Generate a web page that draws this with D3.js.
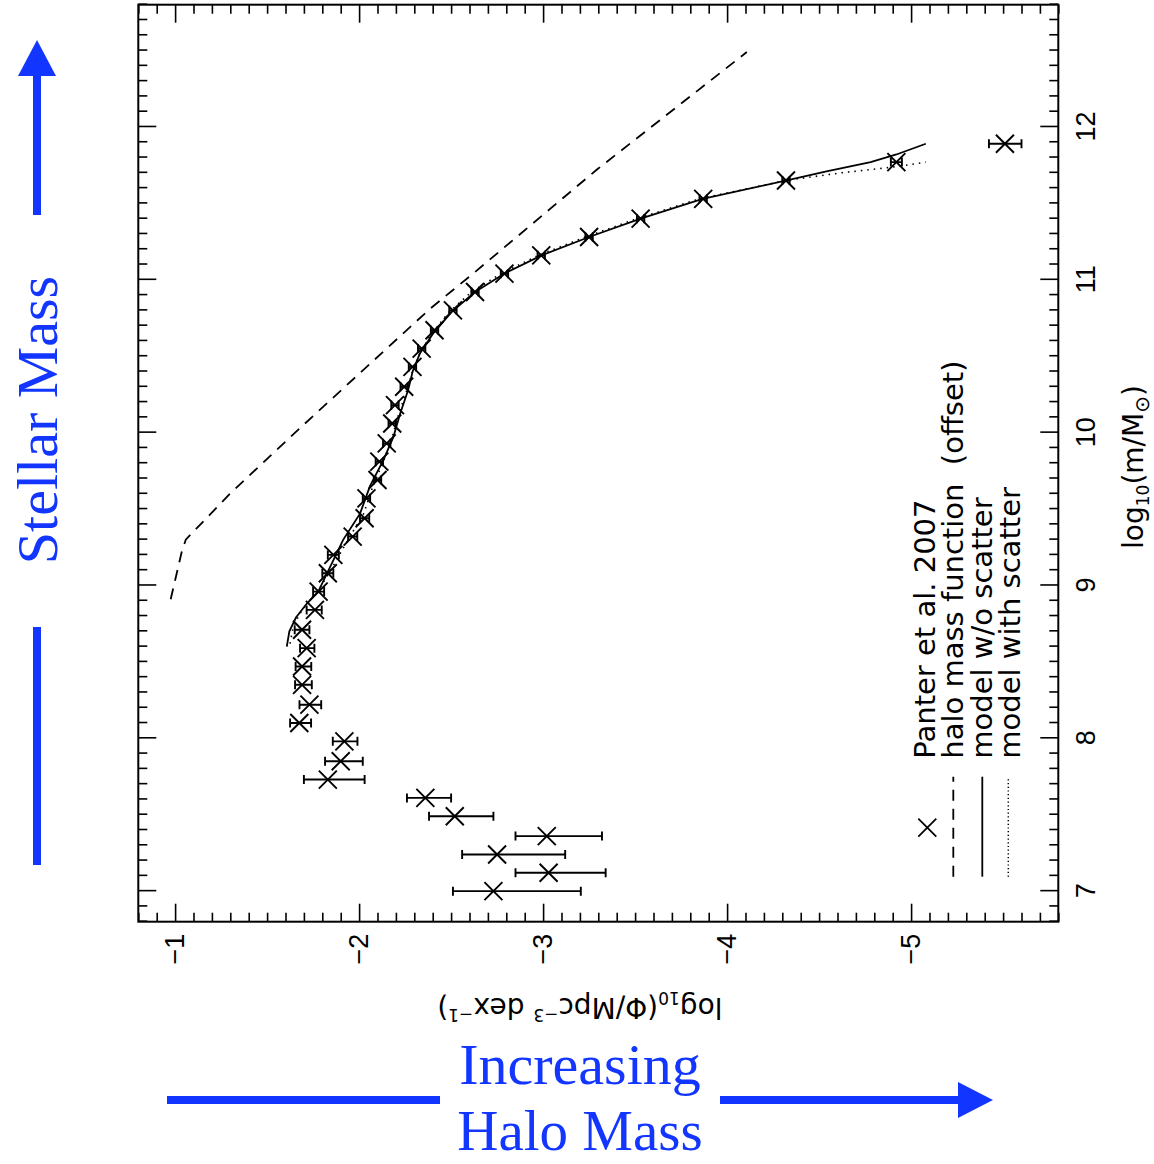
<!DOCTYPE html>
<html>
<head>
<meta charset="utf-8">
<script src="https://cdnjs.cloudflare.com/ajax/libs/d3/7.8.5/d3.min.js"></script>
<style>
body { margin: 0; background: #fff; }
</style>
</head>
<body>
<script>
// Panter et al. 2007 points: log10 mass, log10 phi, error towards less negative / more negative phi
let ptMass = [7.00, 7.12, 7.24, 7.36, 7.49, 7.61, 7.73, 7.85, 7.98, 8.10, 8.22, 8.35, 8.47, 8.59, 8.71, 8.84,
  8.96, 9.08, 9.20, 9.32, 9.44, 9.57, 9.69, 9.81, 9.93, 10.06, 10.18, 10.30, 10.43, 10.55, 10.67, 10.80,
  10.92, 11.04, 11.16, 11.28, 11.40, 11.53, 11.65, 11.77, 11.89];
let ptPhi = [-2.73, -3.03, -2.75, -3.02, -2.52, -2.36, -1.83, -1.90, -1.92, -1.675, -1.73, -1.69, -1.69, -1.715, -1.69, -1.76,
  -1.78, -1.83, -1.86, -1.965, -2.03, -2.04, -2.10, -2.11, -2.15, -2.18, -2.195, -2.245, -2.29, -2.34, -2.41, -2.51,
  -2.63, -2.79, -2.99, -3.25, -3.53, -3.87, -4.32, -4.92, -5.51];
let errUp = [0.22, 0.18, 0.19, 0.17, 0.14, 0.10, 0.13, 0.085, 0.063, 0.05, 0.054, 0.038, 0.035, 0.036, 0.04, 0.045,
  0.03, 0.03, 0.03, 0.025, 0.025, 0.02, 0.02, 0.02, 0.02, 0.02, 0.02, 0.02, 0.02, 0.02, 0.02, 0.02,
  0.02, 0.02, 0.02, 0.02, 0.02, 0.02, 0.02, 0.03, 0.087];
let errDown = [0.475, 0.31, 0.37, 0.30, 0.21, 0.14, 0.20, 0.12, 0.071, 0.064, 0.064, 0.053, 0.05, 0.042, 0.04, 0.037,
  0.03, 0.03, 0.03, 0.025, 0.025, 0.02, 0.02, 0.02, 0.02, 0.02, 0.02, 0.02, 0.02, 0.02, 0.02, 0.02,
  0.02, 0.02, 0.02, 0.02, 0.02, 0.02, 0.02, 0.03, 0.09];

// halo mass function (offset)
let hmfMass = [8.91, 9.22, 9.30, 9.60, 10.05, 10.81, 11.06, 11.72, 12.49];
let hmfPhi = [-0.976, -1.036, -1.058, -1.298, -1.697, -2.385, -2.639, -3.291, -4.107];

// model w/o scatter
let noScMass = [8.60, 8.70, 8.79, 8.88, 8.96, 9.12, 9.30, 9.47, 9.65, 9.82, 9.97, 10.12, 10.28, 10.40, 10.52,
  10.65, 10.79, 10.92, 11.04, 11.16, 11.28, 11.40, 11.53, 11.65, 11.71, 11.77, 11.82, 11.89];
let noScPhi = [-1.607, -1.621, -1.657, -1.715, -1.778, -1.842, -1.914, -2.005, -2.059, -2.132, -2.186, -2.222, -2.267, -2.291, -2.331,
  -2.403, -2.503, -2.630, -2.788, -2.992, -3.25, -3.53, -3.867, -4.324, -4.54, -4.78, -4.92, -5.08];

// model with scatter
let scMass = [8.62, 8.72, 8.81, 8.90, 8.98, 9.12, 9.30, 9.47, 9.65, 9.82, 9.97, 10.12, 10.28, 10.40, 10.52,
  10.65, 10.79, 10.92, 11.04, 11.16, 11.28, 11.40, 11.53, 11.65, 11.70, 11.74, 11.77];
let scPhi = [-1.625, -1.64, -1.675, -1.73, -1.785, -1.855, -1.94, -2.025, -2.075, -2.135, -2.18, -2.215, -2.26, -2.29, -2.33,
  -2.395, -2.49, -2.61, -2.77, -2.975, -3.23, -3.51, -3.85, -4.32, -4.62, -4.92, -5.08];

let massTicks = [7, 8, 9, 10, 11, 12];
let phiTicks = [-1, -2, -3, -4, -5];
let legendLabels = ["Panter et al. 2007", "halo mass function  (offset)", "model w/o scatter", "model with scatter"];

let W = 917, H = 920;
let blue = "#1236ff";
let sans = "'DejaVu Sans', sans-serif";

let svg = d3.select("body").append("svg")
  .attr("width", 1154)
  .attr("height", 1164);

// the plot is drawn in its original orientation and turned a quarter turn
let g = svg.append("g")
  .attr("transform", "translate(138.3,921.7) rotate(-90)");

let x = d3.scaleLinear().domain([6.8, 12.8]).range([0, W]);
let y = d3.scaleLinear().domain([-0.8, -5.8]).range([0, H]);

let massMinor = d3.range(68, 129).map(d => d / 10).filter(d => d % 1 !== 0);
let phiMinor = d3.range(-58, -7).map(d => d / 10).filter(d => d % 1 !== 0);

function styleAxis(sel) {
  sel.select(".domain").remove();
  sel.selectAll("line").attr("stroke", "#000").attr("stroke-width", 1.6);
  sel.attr("font-family", "'Liberation Sans', sans-serif").attr("font-size", 27);
  sel.selectAll("text").attr("fill", "#000");
}

// mass axis (bottom of the original plot)
g.append("g").attr("transform", "translate(0," + H + ")")
  .call(d3.axisBottom(x).tickValues(massTicks).tickSizeInner(-18).tickSizeOuter(0).tickPadding(18).tickFormat(d3.format("d")))
  .call(styleAxis);
g.append("g").attr("transform", "translate(0," + H + ")")
  .call(d3.axisBottom(x).tickValues(massMinor).tickSizeInner(-9).tickSizeOuter(0).tickFormat(""))
  .call(styleAxis);
g.append("g")
  .call(d3.axisTop(x).tickValues(massTicks).tickSizeInner(-18).tickSizeOuter(0).tickFormat(""))
  .call(styleAxis);
g.append("g")
  .call(d3.axisTop(x).tickValues(massMinor).tickSizeInner(-9).tickSizeOuter(0).tickFormat(""))
  .call(styleAxis);

// phi axis
g.append("g")
  .call(d3.axisLeft(y).tickValues(phiTicks).tickSizeInner(-18).tickSizeOuter(0).tickPadding(12).tickFormat(d3.format("d")))
  .call(styleAxis);
g.append("g")
  .call(d3.axisLeft(y).tickValues(phiMinor).tickSizeInner(-9).tickSizeOuter(0).tickFormat(""))
  .call(styleAxis);
g.append("g").attr("transform", "translate(" + W + ",0)")
  .call(d3.axisRight(y).tickValues(phiTicks).tickSizeInner(-18).tickSizeOuter(0).tickFormat(""))
  .call(styleAxis);
g.append("g").attr("transform", "translate(" + W + ",0)")
  .call(d3.axisRight(y).tickValues(phiMinor).tickSizeInner(-9).tickSizeOuter(0).tickFormat(""))
  .call(styleAxis);

g.append("rect")
  .attr("width", W).attr("height", H)
  .attr("fill", "none").attr("stroke", "#000").attr("stroke-width", 2);

// axis titles
let tPhi = g.append("text")
  .attr("transform", "translate(-76," + y(-3.2) + ") rotate(-90)")
  .attr("text-anchor", "middle")
  .attr("font-family", sans).attr("font-size", 28);
tPhi.append("tspan").text("log");
tPhi.append("tspan").attr("font-size", 17).attr("dy", 6).text("10");
tPhi.append("tspan").attr("dy", -6).text("(Φ/Mpc");
tPhi.append("tspan").attr("font-size", 17).attr("dy", -11).text("−3");
tPhi.append("tspan").attr("dy", 11).text(" dex");
tPhi.append("tspan").attr("font-size", 17).attr("dy", -11).text("−1");
tPhi.append("tspan").attr("dy", 11).text(")");

let tMass = g.append("text")
  .attr("x", 454.7).attr("y", H + 85)
  .attr("text-anchor", "middle")
  .attr("font-family", sans).attr("font-size", 28);
tMass.append("tspan").text("log");
tMass.append("tspan").attr("font-size", 17).attr("dy", 6).text("10");
tMass.append("tspan").attr("dy", -6).text("(m/M");
tMass.append("tspan").attr("font-size", 20).attr("dy", 6).text("⊙");
tMass.append("tspan").attr("dy", -6).text(")");

// lines
let line = d3.line().x(d => x(d[0])).y(d => y(d[1]));

g.append("path")
  .datum(d3.zip(hmfMass, hmfPhi))
  .attr("d", line)
  .attr("fill", "none").attr("stroke", "#000").attr("stroke-width", 1.8)
  .attr("stroke-dasharray", "11,8");

g.append("path")
  .datum(d3.zip(noScMass, noScPhi))
  .attr("d", line)
  .attr("fill", "none").attr("stroke", "#000").attr("stroke-width", 1.8);

g.append("path")
  .datum(d3.zip(scMass, scPhi))
  .attr("d", line)
  .attr("fill", "none").attr("stroke", "#000").attr("stroke-width", 1.6)
  .attr("stroke-dasharray", "1.5,5");

// data points with error bars
let pts = ptMass.map((m, i) => ({m: m, phi: ptPhi[i], up: errUp[i], down: errDown[i]}));
let cap = 4.5, s = 9;

let pg = g.selectAll(".pt")
  .data(pts)
  .enter()
  .append("g")
  .attr("class", "pt")
  .attr("fill", "none").attr("stroke", "#000").attr("stroke-width", 1.9);

pg.append("path")
  .attr("d", d => {
    let cx = x(d.m), y1 = y(d.phi + d.up), y2 = y(d.phi - d.down);
    return "M" + cx + "," + y1 + "V" + y2 +
      "M" + (cx - cap) + "," + y1 + "H" + (cx + cap) +
      "M" + (cx - cap) + "," + y2 + "H" + (cx + cap);
  });
pg.append("path")
  .attr("d", d => {
    let cx = x(d.m), cy = y(d.phi);
    return "M" + (cx - s) + "," + (cy - s) + "L" + (cx + s) + "," + (cy + s) +
      "M" + (cx - s) + "," + (cy + s) + "L" + (cx + s) + "," + (cy - s);
  });

// legend
let lg = g.append("g").attr("font-family", sans).attr("font-size", 29);
let rowY = [789, 815, 844, 870];
let baseY = [797, 825, 854, 882];
lg.append("path")
  .attr("d", "M85," + (rowY[0] - 9) + "L103," + (rowY[0] + 9) + "M85," + (rowY[0] + 9) + "L103," + (rowY[0] - 9))
  .attr("stroke", "#000").attr("stroke-width", 1.8);
lg.append("line").attr("x1", 45).attr("x2", 145).attr("y1", rowY[1]).attr("y2", rowY[1])
  .attr("stroke", "#000").attr("stroke-width", 1.8).attr("stroke-dasharray", "11,8");
lg.append("line").attr("x1", 45).attr("x2", 145).attr("y1", rowY[2]).attr("y2", rowY[2])
  .attr("stroke", "#000").attr("stroke-width", 1.8);
lg.append("line").attr("x1", 45).attr("x2", 145).attr("y1", rowY[3]).attr("y2", rowY[3])
  .attr("stroke", "#000").attr("stroke-width", 1.5).attr("stroke-dasharray", "1.2,2.5");
lg.selectAll(".lab")
  .data(legendLabels)
  .enter()
  .append("text")
  .attr("class", "lab")
  .attr("x", 163)
  .attr("y", (d, i) => baseY[i])
  .attr("xml:space", "preserve")
  .style("white-space", "pre")
  .text(d => d);

// blue annotations outside the plot
let serif = "'Liberation Serif', 'Times New Roman', serif";
svg.append("rect").attr("x", 33).attr("y", 72).attr("width", 8).attr("height", 143).attr("fill", blue);
svg.append("path").attr("d", "M37,40L18,76L56,76Z").attr("fill", blue);
svg.append("rect").attr("x", 33).attr("y", 627).attr("width", 8).attr("height", 238).attr("fill", blue);
svg.append("text")
  .attr("transform", "translate(57,420) rotate(-90)")
  .attr("text-anchor", "middle")
  .attr("font-family", serif).attr("font-size", 58)
  .attr("fill", blue)
  .text("Stellar Mass");

svg.append("rect").attr("x", 167).attr("y", 1096).attr("width", 273).attr("height", 8).attr("fill", blue);
svg.append("rect").attr("x", 720).attr("y", 1096).attr("width", 242).attr("height", 8).attr("fill", blue);
svg.append("path").attr("d", "M993,1100L958,1082L958,1118Z").attr("fill", blue);
svg.append("text")
  .attr("x", 580).attr("y", 1084)
  .attr("text-anchor", "middle")
  .attr("font-family", serif).attr("font-size", 58)
  .attr("fill", blue)
  .text("Increasing");
svg.append("text")
  .attr("x", 580).attr("y", 1150)
  .attr("text-anchor", "middle")
  .attr("font-family", serif).attr("font-size", 57)
  .attr("fill", blue)
  .text("Halo Mass");
</script>
</body>
</html>
